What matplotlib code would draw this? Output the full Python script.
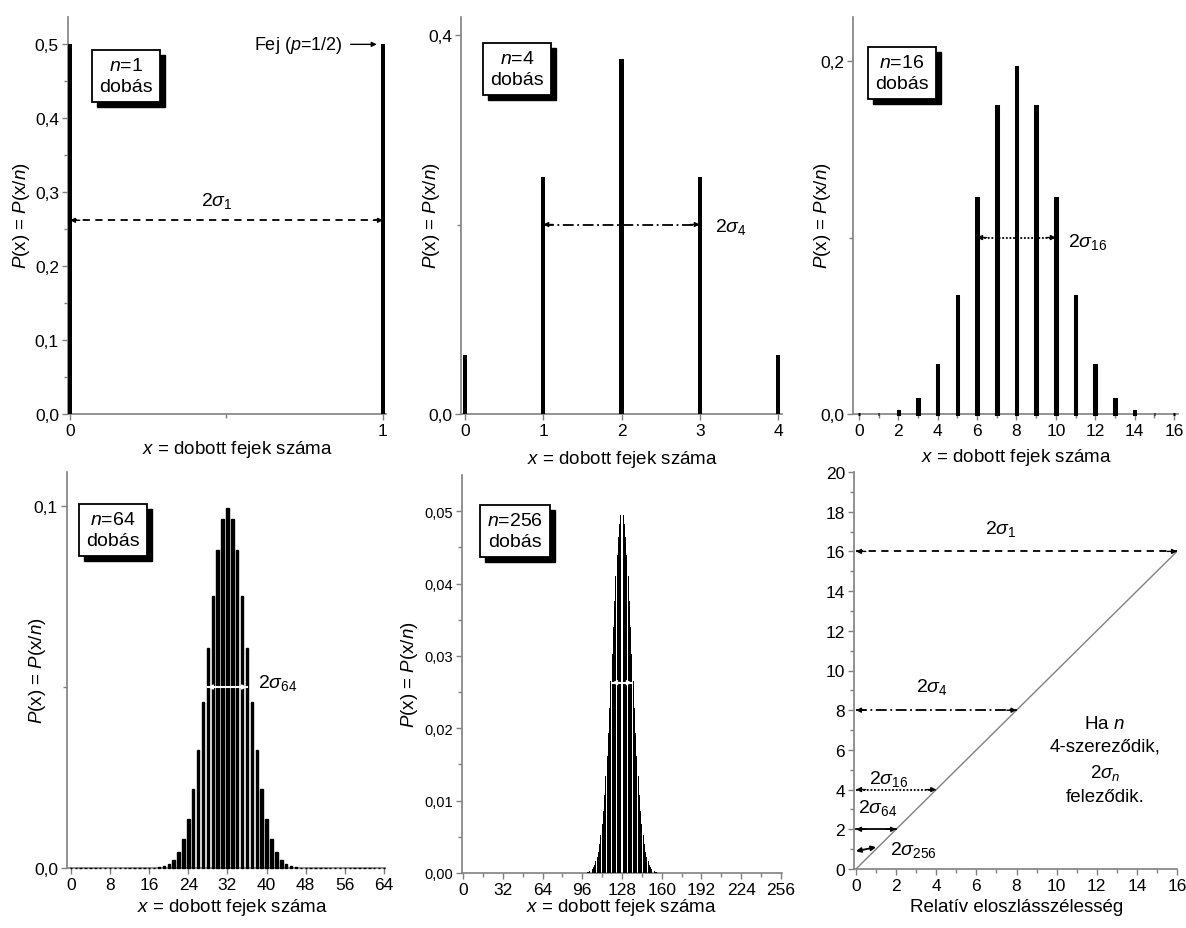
import numpy as np
import matplotlib
matplotlib.use("Agg")
import matplotlib.pyplot as plt
from matplotlib.patches import Rectangle

plt.rcParams['font.family'] = ['Liberation Sans', 'DejaVu Sans']
plt.rcParams['mathtext.fontset'] = 'custom'
plt.rcParams['mathtext.rm'] = 'Liberation Sans'
plt.rcParams['mathtext.it'] = 'Liberation Sans:italic'
plt.rcParams['mathtext.bf'] = 'Liberation Sans:bold'

# --- data ---
x_1 = [0, 1]
p_1 = [0.5, 0.5]

x_4 = [0, 1, 2, 3, 4]
p_4 = [0.0625, 0.25, 0.375, 0.25, 0.0625]

x_16 = list(range(17))
p_16 = [0.00002, 0.00024, 0.0018, 0.0085, 0.0278, 0.0667, 0.1222, 0.1746, 0.1964,
        0.1746, 0.1222, 0.0667, 0.0278, 0.0085, 0.0018, 0.00024, 0.00002]

x_64 = list(range(65))
p_64 = [0, 0, 0, 0, 0, 0, 0, 0, 0, 0, 0, 0, 0, 0, 0, 0,
        0.00003, 0.00007, 0.00020, 0.00047, 0.00106, 0.00223, 0.00436, 0.00795,
        0.01359, 0.02174, 0.03261, 0.04589, 0.06064, 0.07528, 0.08783, 0.09633,
        0.09934,
        0.09633, 0.08783, 0.07528, 0.06064, 0.04589, 0.03261, 0.02174, 0.01359,
        0.00795, 0.00436, 0.00223, 0.00106, 0.00047, 0.00020, 0.00007, 0.00003,
        0, 0, 0, 0, 0, 0, 0, 0, 0, 0, 0, 0, 0, 0, 0, 0]

x_256 = list(range(96, 161))
p_256 = [0.00002, 0.00003, 0.00004, 0.00007, 0.00011, 0.00016, 0.00025, 0.00037,
         0.00055, 0.00080, 0.00113, 0.00159, 0.00219, 0.00297, 0.00397, 0.00522,
         0.00676, 0.00861, 0.01080, 0.01334, 0.01621, 0.01940, 0.02285, 0.02650,
         0.03026, 0.03401, 0.03763, 0.04100, 0.04398, 0.04644, 0.04828, 0.04942,
         0.04981,
         0.04942, 0.04828, 0.04644, 0.04398, 0.04100, 0.03763, 0.03401, 0.03026,
         0.02650, 0.02285, 0.01940, 0.01621, 0.01334, 0.01080, 0.00861, 0.00676,
         0.00522, 0.00397, 0.00297, 0.00219, 0.00159, 0.00113, 0.00080, 0.00055,
         0.00037, 0.00025, 0.00016, 0.00011, 0.00007, 0.00004, 0.00003, 0.00002]

# 2 sigma arrows (start, end, height) in each distribution panel
sig_1 = (0, 1, 0.262)
sig_4 = (1, 3, 0.2)
sig_16 = (6, 10, 0.1)
sig_64 = (28, 36, 0.05)
sig_256 = (120, 136, 0.0263)

# relative width panel
rel_width = [16, 8, 4, 2, 1]
rel_names = ['1', '4', '16', '64', '256']

W, H = 1186, 929
fig = plt.figure(figsize=(W / 100, H / 100), dpi=100)
boxes = []


def px_axes(left, top, right, bottom):
    return fig.add_axes([left / W, 1 - bottom / H, (right - left) / W, (bottom - top) / H])


def fx(x):
    return x / W


def fy(y):
    return 1 - y / H


def style(ax, labelsize=12.5):
    for s in ['top', 'right']:
        ax.spines[s].set_visible(False)
    for s in ['left', 'bottom']:
        ax.spines[s].set_color('#808080')
        ax.spines[s].set_linewidth(1.2)
    ax.tick_params(which='both', direction='out', color='#808080', labelsize=labelsize, width=1)
    ax.tick_params(which='major', length=4.5, pad=2)
    ax.tick_params(which='minor', length=3)


def harrow(ax, x0, x1, y, ls, color='black', lw=1.3):
    ax.plot([x0, x1], [y, y], ls=ls, color=color, lw=lw, clip_on=False, zorder=5)
    for a, d in ((x0, 7), (x1, -7)):
        ax.annotate('', xy=(a, y), xytext=(d, 0), textcoords='offset points',
                    arrowprops=dict(arrowstyle='-|>', color=color, lw=1,
                                    mutation_scale=7, shrinkA=0, shrinkB=0),
                    annotation_clip=False, zorder=6)


def label_box(cx, cy, txt):
    # white box; the black drop shadow is added after the first draw
    t = fig.text(fx(cx), fy(cy), txt, ha='center', va='center', fontsize=14,
                 linespacing=1.3, zorder=10,
                 bbox=dict(boxstyle='square,pad=0.35', fc='white', ec='black', lw=1.3))
    boxes.append(t)


ylab = '$P$(x) = $P$(x/$n$)'
xlab = '$x$ = dobott fejek száma'

# ---------- n = 1 ----------
ax1 = px_axes(68, 18, 386, 415)
ax1.bar(x_1, p_1, width=0.013, color='black', zorder=3, clip_on=False)
ax1.set_xlim(-0.0064, 1.0096)
ax1.set_ylim(0, 0.537)
ax1.set_xticks([0, 1], ['0', '1'])
ax1.set_xticks([0.5], minor=True)
ax1.set_yticks([0, 0.1, 0.2, 0.3, 0.4, 0.5], ['0,0', '0,1', '0,2', '0,3', '0,4', '0,5'])
ax1.set_yticks([0.05, 0.15, 0.25, 0.35, 0.45], minor=True)
style(ax1)
harrow(ax1, sig_1[0], sig_1[1], sig_1[2], (0, (4, 3)))
ax1.text(0.47, 0.29, r'2$\sigma_{1}$', fontsize=14, ha='center', va='center')
ax1.annotate('Fej ($p$=1/2)', xy=(0.98, 0.5), xytext=(0.87, 0.5), ha='right', va='center',
             fontsize=13, arrowprops=dict(arrowstyle='-|>', color='black', lw=1,
                                          mutation_scale=7, shrinkA=4, shrinkB=0))
label_box(126, 77, '$n$=1\ndobás')
fig.text(fx(22), fy(216), ylab, rotation=90, ha='center', va='center', fontsize=13.5)
fig.text(fx(237), fy(450), xlab, ha='center', va='center', fontsize=13.5)

# ---------- n = 4 ----------
ax2 = px_axes(461, 18, 782, 415)
ax2.bar(x_4, p_4, width=0.055, color='black', zorder=3)
ax2.set_xlim(-0.05, 4.05)
ax2.set_ylim(0, 0.419)
ax2.set_xticks(x_4, [str(v) for v in x_4])
ax2.set_yticks([0, 0.4], ['0,0', '0,4'])
ax2.set_yticks([0.2], minor=True)
style(ax2)
harrow(ax2, sig_4[0], sig_4[1], sig_4[2], (0, (6, 2, 1, 2)))
ax2.text(3.2, 0.198, r'2$\sigma_{4}$', fontsize=14, ha='left', va='center')
label_box(517, 70, '$n$=4\ndobás')
fig.text(fx(432), fy(216), ylab, rotation=90, ha='center', va='center', fontsize=13.5)
fig.text(fx(622), fy(459), xlab, ha='center', va='center', fontsize=13.5)

# ---------- n = 16 ----------
ax3 = px_axes(853, 18, 1178, 415)
ax3.bar(x_16, p_16, width=0.08, color='black', ec='black', lw=2.2, zorder=3, clip_on=False)
ax3.set_xlim(-0.3, 16.2)
ax3.set_ylim(0, 0.225)
ax3.set_xticks(range(0, 17, 2), [str(v) for v in range(0, 17, 2)])
ax3.set_xticks(range(1, 17, 2), minor=True)
ax3.set_yticks([0, 0.2], ['0,0', '0,2'])
ax3.set_yticks([0.1], minor=True)
style(ax3)
harrow(ax3, sig_16[0], sig_16[1], sig_16[2], (0, (1, 1)))
ax3.text(10.6, 0.098, r'2$\sigma_{16}$', fontsize=14, ha='left', va='center')
label_box(902, 74, '$n$=16\ndobás')
fig.text(fx(822), fy(216), ylab, rotation=90, ha='center', va='center', fontsize=13.5)
fig.text(fx(1016), fy(457), xlab, ha='center', va='center', fontsize=13.5)

# ---------- n = 64 ----------
ax4 = px_axes(67, 473, 385, 869)
ax4.bar(x_64, p_64, width=0.5, color='black', ec='black', lw=1, zorder=3, clip_on=False)
ax4.set_xlim(-0.8, 64.2)
ax4.set_ylim(0, 0.1094)
ax4.set_xticks(range(0, 65, 8), [str(v) for v in range(0, 65, 8)])
ax4.set_yticks([0, 0.1], ['0,0', '0,1'])
ax4.set_yticks([0.05], minor=True)
style(ax4)
harrow(ax4, sig_64[0], sig_64[1], sig_64[2], '-', color='white', lw=1.5)
ax4.text(38.2, 0.0515, r'2$\sigma_{64}$', fontsize=14, ha='left', va='center')
label_box(113, 531, '$n$=64\ndobás')
fig.text(fx(38), fy(671), ylab, rotation=90, ha='center', va='center', fontsize=13.5)
fig.text(fx(232), fy(908), xlab, ha='center', va='center', fontsize=13.5)

# ---------- n = 256 ----------
ax5 = px_axes(462, 476, 782, 874)
ax5.bar(x_256, p_256, width=0.75, color='black', zorder=3)
ax5.set_xlim(-1, 257)
ax5.set_ylim(0, 0.055)
ax5.set_xticks(range(0, 257, 32), [str(v) for v in range(0, 257, 32)])
ax5.set_xticks(range(16, 257, 32), minor=True)
ax5.set_yticks([0, 0.01, 0.02, 0.03, 0.04, 0.05],
               ['0,00', '0,01', '0,02', '0,03', '0,04', '0,05'])
ax5.set_yticks([0.005, 0.015, 0.025, 0.035, 0.045], minor=True)
style(ax5)
ax5.tick_params(axis='y', labelsize=10.5)
harrow(ax5, sig_256[0], sig_256[1], sig_256[2], '-', color='white', lw=1.5)
label_box(515, 532, '$n$=256\ndobás')
fig.text(fx(410), fy(675), ylab, rotation=90, ha='center', va='center', fontsize=13.5)
fig.text(fx(621), fy(908), xlab, ha='center', va='center', fontsize=13.5)

# ---------- relative width ----------
ax6 = px_axes(854, 473, 1177, 870)
ax6.plot([0, 16], [0, 16], color='#808080', lw=1)
ax6.set_xlim(-0.1, 16)
ax6.set_ylim(0, 20)
ax6.set_xticks(range(0, 17, 2), [str(v) for v in range(0, 17, 2)])
ax6.set_xticks(range(1, 17, 2), minor=True)
ax6.set_yticks(range(0, 21, 2), [str(v) for v in range(0, 21, 2)])
ax6.set_yticks(range(1, 21, 2), minor=True)
style(ax6)
styles = [(0, (4, 3)), (0, (6, 2, 1, 2)), (0, (1, 1)), '-']
for w, ls in zip(rel_width[:4], styles):
    harrow(ax6, 0, w, w, ls)
# the n = 256 arrow is drawn slightly slanted in the picture
ax6.annotate('', xy=(rel_width[4], 1.1), xytext=(0, 0.9),
             arrowprops=dict(arrowstyle='<|-|>', color='black', lw=1.3,
                             mutation_scale=7, shrinkA=0, shrinkB=0))
lab_pos = [(7.2, 17.2), (3.8, 9.2), (1.6, 4.6), (1.1, 3.1), (2.85, 1.0)]
for name, (lx, ly) in zip(rel_names, lab_pos):
    ax6.text(lx, ly, r'2$\sigma_{%s}$' % name, fontsize=14, ha='center', va='center')
ax6.text(12.4, 5.5, 'Ha $n$\n4-szereződik,\n2$\\sigma_{n}$\nfeleződik.', fontsize=13.5,
         ha='center', va='center', linespacing=1.45)
fig.text(fx(1017), fy(908), 'Relatív eloszlásszélesség', ha='center', va='center', fontsize=13.5)

# drop shadows behind the label boxes
fig.canvas.draw()
for t in boxes:
    bb = t.get_bbox_patch().get_window_extent()
    fig.patches.append(Rectangle(((bb.x0 + 5) / W, (bb.y0 - 5) / H), bb.width / W, bb.height / H,
                                 transform=fig.transFigure, fc='black', ec='black', zorder=9))

fig.savefig('out.png', dpi=100)
